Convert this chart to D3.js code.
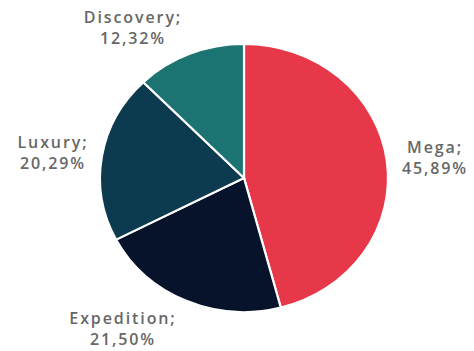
<!DOCTYPE html>
<html>
<head>
<meta charset="utf-8">
<script src="https://cdn.jsdelivr.net/npm/d3@7"></script>
<style>
  body { margin: 0; background: #fff; }
  text { font-family: "Open Sans", sans-serif; font-weight: 600; fill: #676767; letter-spacing: 1.9px; }
</style>
</head>
<body>
<svg id="chart" width="474" height="351"></svg>
<script>
// segments, clockwise from 12 o'clock
var categories = ["Mega", "Expedition", "Luxury", "Discovery"];
var shares = [45.89, 21.50, 20.29, 12.32];
var labels = ["45,89%", "21,50%", "20,29%", "12,32%"];
var colours = ["#e7384a", "#06132b", "#0c3a4e", "#1b7372"];

var width = 474, height = 351;
var cx = 244, cy = 178, rx = 144, ry = 134;

var svg = d3.select("#chart");

var data = categories.map(function (c, i) {
    return { name: c, value: shares[i], label: labels[i], colour: colours[i] };
});

var pie = d3.pie().sort(null).value(function (d) { return d.value; });
var arc = d3.arc().innerRadius(0).outerRadius(rx);

// the pie in the picture is a bit squashed vertically
var g = svg.append("g")
    .attr("transform", "translate(" + cx + "," + cy + ") scale(1," + (ry / rx) + ")");

g.selectAll("path")
    .data(pie(data))
    .enter()
    .append("path")
    .attr("d", arc)
    .attr("fill", function (d) { return d.data.colour; })
    .attr("stroke", "#fff")
    .attr("stroke-width", 2.2);

// label positions (centre x, first baseline)
var labelPos = {
    "Mega": [435, 153],
    "Expedition": [123, 324],
    "Luxury": [53, 148],
    "Discovery": [133, 23]
};

var lab = svg.selectAll(".lab")
    .data(data)
    .enter()
    .append("text")
    .attr("class", "lab")
    .attr("text-anchor", "middle")
    .attr("font-size", 16);

lab.append("tspan")
    .attr("x", function (d) { return labelPos[d.name][0]; })
    .attr("y", function (d) { return labelPos[d.name][1]; })
    .text(function (d) { return d.name + ";"; });

lab.append("tspan")
    .attr("x", function (d) { return labelPos[d.name][0]; })
    .attr("y", function (d) { return labelPos[d.name][1] + 21; })
    .text(function (d) { return d.label; });
</script>
</body>
</html>
